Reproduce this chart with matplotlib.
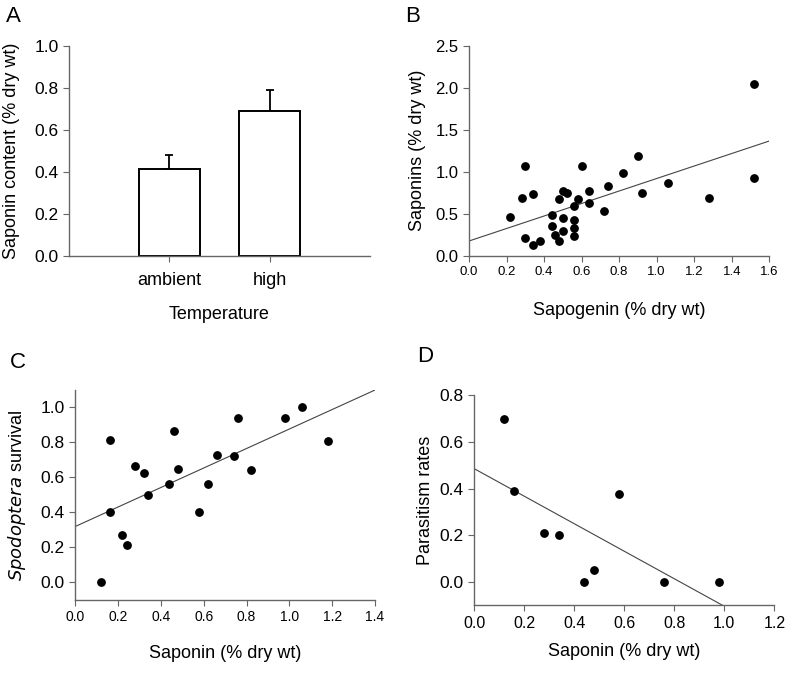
import numpy as np
import matplotlib
matplotlib.use('Agg')
import matplotlib.pyplot as plt

plt.rcParams['font.family'] = ['Liberation Sans', 'DejaVu Sans']

# Panel A: saponin content by temperature
temp_groups = ['ambient', 'high']
saponin_mean = [0.413, 0.69]
saponin_err = [0.068, 0.10]

# Panel B: sapogenin vs saponins
sapogenin_x = [0.22, 0.28, 0.30, 0.30, 0.34, 0.34, 0.38, 0.44, 0.44, 0.46, 0.48, 0.48,
               0.50, 0.50, 0.50, 0.52, 0.56, 0.56, 0.56, 0.56, 0.58, 0.60, 0.64, 0.64,
               0.72, 0.74, 0.82, 0.90, 0.92, 1.06, 1.28, 1.52, 1.52]
saponins_y = [0.46, 0.69, 1.07, 0.21, 0.73, 0.13, 0.17, 0.49, 0.35, 0.25, 0.67, 0.17,
              0.77, 0.45, 0.29, 0.75, 0.59, 0.43, 0.33, 0.23, 0.67, 1.07, 0.77, 0.63,
              0.53, 0.83, 0.99, 1.19, 0.75, 0.87, 0.69, 2.05, 0.93]
fit_b = (0.175, 0.744)  # intercept, slope

# Panel C: saponin vs Spodoptera survival
saponin_c = [0.12, 0.16, 0.16, 0.22, 0.24, 0.28, 0.32, 0.34, 0.44, 0.46, 0.48, 0.58,
             0.62, 0.66, 0.74, 0.76, 0.82, 0.98, 1.06, 1.18]
survival_c = [0.0, 0.813, 0.40, 0.274, 0.213, 0.667, 0.625, 0.50, 0.562, 0.867, 0.65, 0.40,
              0.562, 0.728, 0.722, 0.939, 0.644, 0.939, 1.0, 0.81]
fit_c = (0.32, 0.557)

# Panel D: saponin vs parasitism
saponin_d = [0.12, 0.16, 0.28, 0.34, 0.44, 0.48, 0.58, 0.76, 0.98]
parasitism_d = [0.70, 0.39, 0.208, 0.20, 0.0, 0.05, 0.376, 0.0, 0.0]
fit_d = (0.486, -0.59)

spine_col = '#666666'

fig = plt.figure(figsize=(7.89, 6.74), dpi=100)
axA = fig.add_axes([0.0875, 0.6206, 0.3815, 0.3116])
axB = fig.add_axes([0.5944, 0.6206, 0.3806, 0.3116])
axC = fig.add_axes([0.0954, 0.1098, 0.3799, 0.3116])
axD = fig.add_axes([0.6008, 0.1019, 0.3806, 0.3116])


def style(ax, xsize, ysize):
    for s in ['top', 'right']:
        ax.spines[s].set_visible(False)
    for s in ['left', 'bottom']:
        ax.spines[s].set_color(spine_col)
        ax.spines[s].set_linewidth(1.0)
    ax.tick_params(axis='both', direction='out', length=4, width=0.8, color=spine_col)
    ax.tick_params(axis='x', labelsize=xsize)
    ax.tick_params(axis='y', labelsize=ysize)


# A
pos = np.arange(1, len(temp_groups) + 1)
axA.bar(pos, saponin_mean, width=0.61, color='white', edgecolor='black', linewidth=1.4, zorder=2)
axA.errorbar(pos, saponin_mean, yerr=[np.zeros(2), saponin_err], fmt='none',
             ecolor='black', elinewidth=1.3, capsize=3, capthick=1.3, zorder=1)
axA.set_xlim(0, 3)
axA.set_ylim(0, 1.0)
axA.set_xticks(pos)
axA.set_xticklabels(temp_groups)
axA.set_yticks(np.arange(0, 1.01, 0.2))
axA.set_yticklabels(['%.1f' % v for v in np.arange(0, 1.01, 0.2)])
style(axA, 13, 12.5)
axA.tick_params(axis='x', pad=8)
axA.set_xlabel('Temperature', fontsize=13, labelpad=12)
axA.set_ylabel('Saponin content (% dry wt)', fontsize=13, labelpad=10)

# B
axB.scatter(sapogenin_x, saponins_y, s=28, color='black', zorder=3)
xl = np.array([0, 1.6])
axB.plot(xl, fit_b[0] + fit_b[1] * xl, color='#444444', lw=0.8)
axB.set_xlim(0, 1.6)
axB.set_ylim(0, 2.5)
axB.set_xticks(np.arange(0, 1.61, 0.2))
axB.set_xticklabels(['%.1f' % v for v in np.arange(0, 1.61, 0.2)])
axB.set_yticks(np.arange(0, 2.51, 0.5))
axB.set_yticklabels(['%.1f' % v for v in np.arange(0, 2.51, 0.5)])
style(axB, 9.5, 12)
axB.set_xlabel('Sapogenin (% dry wt)', fontsize=13, labelpad=17)
axB.set_ylabel('Saponins (% dry wt)', fontsize=13, labelpad=7)

# C
axC.scatter(saponin_c, survival_c, s=28, color='black', zorder=3)
xl = np.array([0, 1.4])
axC.plot(xl, fit_c[0] + fit_c[1] * xl, color='#444444', lw=0.8)
axC.set_xlim(0, 1.4)
axC.set_ylim(-0.1, 1.1)
axC.set_xticks(np.arange(0, 1.41, 0.2))
axC.set_xticklabels(['%.1f' % v for v in np.arange(0, 1.41, 0.2)])
axC.set_yticks(np.arange(0, 1.01, 0.2))
axC.set_yticklabels(['%.1f' % v for v in np.arange(0, 1.01, 0.2)])
style(axC, 10, 12.5)
axC.set_xlabel('Saponin (% dry wt)', fontsize=13, labelpad=15)
axC.set_ylabel(r'$\it{Spodoptera}$ survival', fontsize=13, labelpad=9)

# D
axD.scatter(saponin_d, parasitism_d, s=28, color='black', zorder=3)
xl = np.array([0, (-0.1 - fit_d[0]) / fit_d[1]])
axD.plot(xl, fit_d[0] + fit_d[1] * xl, color='#444444', lw=0.8)
axD.set_xlim(0, 1.2)
axD.set_ylim(-0.1, 0.8)
axD.set_xticks(np.arange(0, 1.21, 0.2))
axD.set_xticklabels(['%.1f' % v for v in np.arange(0, 1.21, 0.2)])
axD.set_yticks(np.arange(0, 0.81, 0.2))
axD.set_yticklabels(['%.1f' % v for v in np.arange(0, 0.81, 0.2)])
style(axD, 11.5, 12.5)
axD.set_xlabel('Saponin (% dry wt)', fontsize=13, labelpad=9)
axD.set_ylabel('Parasitism rates', fontsize=13, labelpad=4)

# panel letters
for lbl, x, y in [('A', 13, 16), ('B', 413, 16), ('C', 18, 363), ('D', 425, 356)]:
    fig.text(x / 789, 1 - y / 674, lbl, fontsize=16, ha='center', va='center')

fig.savefig('out.png', dpi=100)
